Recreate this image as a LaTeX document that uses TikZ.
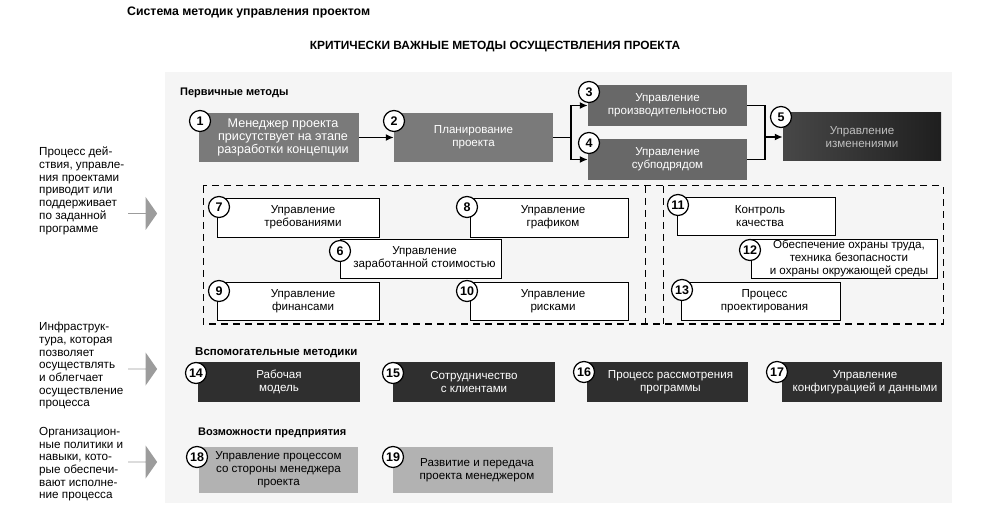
\documentclass[tikz,border=0pt]{standalone}
\usepackage{fontspec}
\setmainfont{Liberation Sans}
\usetikzlibrary{arrows.meta,shapes.arrows,calc}
\definecolor{gA}{HTML}{7A7A7A}
\definecolor{gB}{HTML}{686868}
\definecolor{gC}{HTML}{2F2F2F}
\definecolor{gD}{HTML}{B2B2B2}
\definecolor{gArr}{HTML}{9C9C9C}
\begin{document}
\begin{tikzpicture}[x=1pt,y=-1pt,
  txt/.style={font=\fontsize{11.7}{12.7}\selectfont},
  box/.style={rectangle,inner sep=0pt,align=center,font=\fontsize{11.6}{13}\selectfont},
  greybox/.style={box,fill=gA,text=white},
  midbox/.style={box,fill=gB,text=white},
  blackbox/.style={box,fill=gC,text=white},
  lightbox/.style={box,fill=gD,text=black},
  whitebox/.style={box,draw=black,line width=0.9pt,fill=white,text=black},
  num/.style={circle,draw=black,line width=1.2pt,fill=white,inner sep=0pt,minimum size=21pt,font=\bfseries\fontsize{12.5}{12.5}\selectfont},
  conn/.style={line width=1.6pt,black},
  arr/.style={conn,-{Latex[length=8pt,width=7pt]}},
  dashline/.style={line width=1pt,dash pattern=on 7pt off 5pt},
  blockarrow/.style={single arrow,fill=gArr,inner sep=0pt,minimum height=29pt,minimum width=33pt,single arrow head extend=6.5pt,single arrow tip angle=110},
  head/.style={font=\bfseries\fontsize{12.3}{13}\selectfont},
  sect/.style={font=\bfseries\fontsize{11}{13}\selectfont}
]
\useasboundingbox (0,0) rectangle (994,513);
% scanned background
\fill[black!4] (165,72) rectangle (952,503);

% titles
\node[head,anchor=west,inner sep=0] (title) at (127,12) {Система методик управления проектом};
\node[head,font=\bfseries\fontsize{11.9}{13}\selectfont,inner sep=0] (crit) at (495,47) {КРИТИЧЕСКИ ВАЖНЫЕ МЕТОДЫ ОСУЩЕСТВЛЕНИЯ ПРОЕКТА};
\node[sect,anchor=west,inner sep=0] (prim) at (180,93) {Первичные методы};
\node[sect,font=\bfseries\fontsize{11.5}{13}\selectfont,anchor=west,inner sep=0] (aux) at (195,353) {Вспомогательные методики};
\node[sect,anchor=west,inner sep=0] (ent) at (198,433) {Возможности предприятия};

% left texts
\node[txt,anchor=north west,align=left,inner sep=0] (l1) at (39,147) {Процесс дей-\\ствия, управле-\\ния проектами\\приводит или\\поддерживает\\по заданной\\программе};
\node[txt,anchor=north west,align=left,inner sep=0] (l2) at (39,322) {Инфраструк-\\тура, которая\\позволяет\\осуществлять\\и облегчает\\осуществление\\процесса};
\node[txt,anchor=north west,align=left,inner sep=0] (l3) at (39,427) {Организацион-\\ные политики и\\навыки, кото-\\рые обеспечи-\\вают исполне-\\ние процесса};

\node[blockarrow] (a1) at (142.5,213.5) {};
\node[blockarrow] (a2) at (142.5,369) {};
\node[blockarrow] (a3) at (142.5,462) {};

% primary methods
\node[greybox,font=\fontsize{12.6}{13.3}\selectfont,minimum width=160pt,minimum height=49pt] (b1) at (279,137.5) {\hspace*{8pt}Менеджер проекта\\\hspace*{8pt}присутствует на этапе\\\hspace*{8pt}разработки концепции};
\node[greybox,minimum width=159pt,minimum height=49pt] (b2) at (473.5,137.5) {Планирование\\проекта};
\node[midbox,minimum width=159pt,minimum height=41pt] (b3) at (667.5,105.5) {Управление\\производительностью};
\node[midbox,minimum width=159pt,minimum height=41pt] (b4) at (667.5,159.5) {Управление\\субподрядом};
\node[box,text=white!75!black,left color=black!72,right color=black!88,minimum width=158pt,minimum height=48pt] (b5) at (862,137) {Управление\\изменениями};

\coordinate (j1) at (571,137.5);
\coordinate (j2) at (765,137);
\draw[arr] (b1.east) -- (b2.west);
\draw[conn] (b2.east) -- (j1);
\draw[arr] (j1) |- (b3.west);
\draw[arr] (j1) |- (b4.west);
\draw[conn] (b3.east) -| (j2);
\draw[conn] (b4.east) -| (j2);
\draw[arr] (j2) -- (b5.west);

% dashed regions
\coordinate (dTL) at (203,186);
\coordinate (dBR) at (943,324);
\coordinate (dL1) at (645,186);
\coordinate (dL2) at (645,324);
\coordinate (dR1) at (663,186);
\coordinate (dR2) at (663,324);
\draw[dashline] (dTL) rectangle (dBR);
\draw[dashline] (dL1) -- (dL2);
\draw[dashline] (dR1) -- (dR2);

\node[whitebox,minimum width=162pt,minimum height=39pt] (b7) at (298,217.5) {\hspace*{10pt}Управление\\\hspace*{10pt}требованиями};
\node[whitebox,minimum width=158pt,minimum height=39pt] (b8) at (549,217.5) {\hspace*{8pt}Управление\\\hspace*{8pt}графиком};
\node[whitebox,minimum width=161pt,minimum height=39pt] (b6) at (420.5,258.5) {\hspace*{8pt}Управление\\\hspace*{8pt}заработанной стоимостью};
\node[whitebox,minimum width=162pt,minimum height=38pt] (b9) at (298,301) {\hspace*{10pt}Управление\\\hspace*{10pt}финансами};
\node[whitebox,minimum width=158pt,minimum height=38pt] (b10) at (549,301) {\hspace*{8pt}Управление\\\hspace*{8pt}рисками};
\node[whitebox,minimum width=158pt,minimum height=38pt] (b11) at (756,216) {\hspace*{8pt}Контроль\\\hspace*{8pt}качества};
\node[whitebox,minimum width=186pt,minimum height=39pt] (b12) at (844,258.5) {\hspace*{10pt}Обеспечение охраны труда,\\\hspace*{10pt}техника безопасности\\\hspace*{10pt}и охраны окружающей среды};
\node[whitebox,minimum width=159pt,minimum height=38pt] (b13) at (760.5,301) {\hspace*{8pt}Процесс\\\hspace*{8pt}проектирования};

% auxiliary
\node[blackbox,minimum width=162pt,minimum height=40pt] (b14) at (279,382) {Рабочая\\модель};
\node[blackbox,minimum width=162pt,minimum height=40pt] (b15) at (474,382) {Сотрудничество\\с клиентами};
\node[blackbox,minimum width=161pt,minimum height=40pt] (b16) at (667.5,382) {\hspace*{6pt}Процесс рассмотрения\\\hspace*{6pt}программы};
\node[blackbox,minimum width=160pt,minimum height=40pt] (b17) at (862,382) {\hspace*{6pt}Управление\\\hspace*{6pt}конфигурацией и данными};

% enterprise
\node[lightbox,minimum width=159pt,minimum height=46pt] (b18) at (278.5,470) {Управление процессом\\со стороны менеджера\\проекта};
\node[lightbox,minimum width=160pt,minimum height=46pt] (b19) at (473,470) {\hspace*{8pt}Развитие и передача\\\hspace*{8pt}проекта менеджером};

% number circles
\node[num] (n1) at (200,121) {1};
\node[num] (n2) at (394,121) {2};
\node[num] (n3) at (589,92) {3};
\node[num] (n4) at (589,143) {4};
\node[num] (n5) at (781,117) {5};
\node[num] (n6) at (340,251) {6};
\node[num] (n7) at (219,207) {7};
\node[num] (n8) at (467,207) {8};
\node[num] (n9) at (219,291) {9};
\node[num] (n10) at (467,291) {10};
\node[num] (n11) at (678,205) {11};
\node[num] (n12) at (750,250) {12};
\node[num] (n13) at (682,290) {13};
\node[num] (n14) at (196,373) {14};
\node[num] (n15) at (393,373) {15};
\node[num] (n16) at (584,372) {16};
\node[num] (n17) at (777,372) {17};
\node[num] (n18) at (197,457) {18};
\node[num] (n19) at (393,457) {19};
\end{tikzpicture}
\end{document}
